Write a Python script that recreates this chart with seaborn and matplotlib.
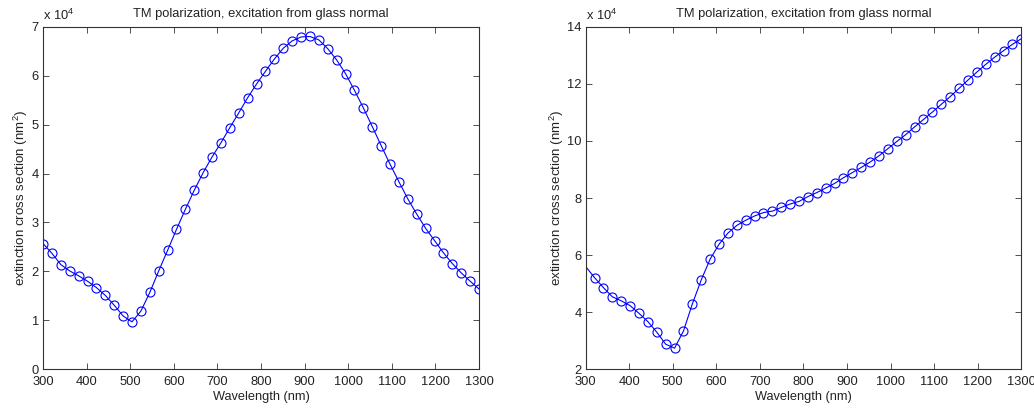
import numpy as np
import pandas as pd
import matplotlib
matplotlib.use("Agg")
import matplotlib.pyplot as plt
from matplotlib.ticker import FuncFormatter, MultipleLocator
import seaborn as sns

# Wavelength samples (nm): 50 evenly spaced points from 300 to 1300
wavelength = np.linspace(300, 1300, 50)

# Extinction cross section (nm^2), first structure
ext_left = [25700, 23700, 21400, 20100, 19100, 18000, 16700, 15100, 13100, 10900,
            9700, 11900, 15700, 20100, 24300, 28600, 32700, 36600, 40200, 43400,
            46300, 49400, 52400, 55500, 58300, 60900, 63400, 65600, 67100, 67900,
            68000, 67300, 65500, 63200, 60400, 57000, 53400, 49600, 45700, 41900,
            38300, 34800, 31700, 28800, 26300, 23800, 21600, 19700, 18000, 16400]

# Extinction cross section (nm^2), second structure
ext_right = [56000, 52100, 48600, 45400, 44000, 42300, 39600, 36700, 33000, 28800,
             27400, 33400, 42900, 51300, 58600, 63800, 67700, 70400, 72200, 73700,
             74900, 75400, 76700, 77900, 78800, 80500, 81900, 83500, 85100, 87100,
             88900, 90700, 92600, 94800, 97300, 99800, 102200, 104900, 107500, 110100,
             112800, 115500, 118400, 121300, 124100, 126800, 129300, 131600, 133800, 135800]

title_text = "TM polarization, excitation from glass normal"
xlabel_text = "Wavelength (nm)"
ylabel_text = "extinction cross section (nm$^2$)"
scale_text = "x 10$^4$"
scale = 1e4

sns.set_style("ticks")
plt.rcParams["font.family"] = ["Liberation Sans", "DejaVu Sans"]
plt.rcParams["mathtext.fontset"] = "custom"
plt.rcParams["mathtext.rm"] = "Liberation Sans"
plt.rcParams["mathtext.it"] = "Liberation Sans"
plt.rcParams.update({
    "xtick.direction": "in",
    "ytick.direction": "in",
    "xtick.top": True,
    "ytick.right": True,
    "xtick.major.size": 4,
    "ytick.major.size": 4,
    "xtick.major.width": 0.6,
    "ytick.major.width": 0.6,
    "axes.linewidth": 0.8,
    "axes.edgecolor": "#333333",
    "xtick.color": "#333333",
    "ytick.color": "#333333",
    "font.size": 9,
})

fig = plt.figure(figsize=(10.34, 4.12), dpi=100)
ax1 = fig.add_axes([0.0416, 0.1036, 0.4217, 0.8316])
ax2 = fig.add_axes([0.5664, 0.1036, 0.4213, 0.8316])

df_left = pd.DataFrame({"wavelength": wavelength, "ext": ext_left})
df_right = pd.DataFrame({"wavelength": wavelength, "ext": ext_right})

line_kw = dict(color="#0000ff", linewidth=0.8, marker="o", markersize=6.5,
               markerfacecolor="none", markeredgecolor="#0000ff",
               markeredgewidth=0.8)

sns.lineplot(data=df_left, x="wavelength", y="ext", ax=ax1, **line_kw)
sns.lineplot(data=df_right, x="wavelength", y="ext", ax=ax2,
             markevery=list(range(1, len(wavelength))), **line_kw)

txt_color = "#222222"
for ax, (ylo, yhi, ystep) in ((ax1, (0, 70000, 10000)), (ax2, (20000, 140000, 20000))):
    ax.set_xlim(300, 1300)
    ax.set_ylim(ylo, yhi)
    ax.xaxis.set_major_locator(MultipleLocator(100))
    ax.yaxis.set_major_locator(MultipleLocator(ystep))
    ax.yaxis.set_major_formatter(FuncFormatter(lambda v, pos: f"{v / scale:g}"))
    ax.tick_params(axis="x", labelsize=9.3, pad=5, labelcolor=txt_color)
    ax.tick_params(axis="y", labelsize=9.3, pad=3, labelcolor=txt_color)
    for side in ("top", "right", "bottom", "left"):
        ax.spines[side].set_visible(True)
    ax.set_title(title_text, fontsize=9.3, pad=7, color=txt_color)
    ax.set_xlabel(xlabel_text, fontsize=9.2, labelpad=2, color=txt_color)
    ax.set_ylabel(ylabel_text, fontsize=9.6, labelpad=1, color=txt_color)
    ax.text(0.0, 1.012, scale_text, transform=ax.transAxes, ha="left",
            va="bottom", fontsize=9.3, color=txt_color)

fig.savefig("out.png", dpi=100)
